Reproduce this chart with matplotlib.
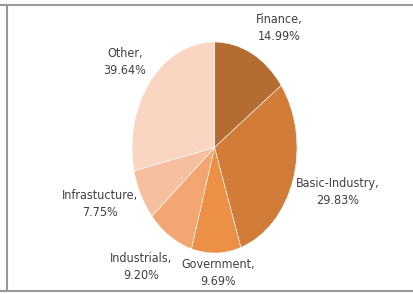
import matplotlib
matplotlib.use('Agg')
import matplotlib.pyplot as plt

# Sector split (wedge sizes as drawn, labels as printed on the chart)
sectors = ['Finance', 'Basic-Industry', 'Government', 'Industrials', 'Infrastucture', 'Other']
wedge_sizes = [14.99, 29.83, 9.69, 9.20, 7.75, 28.54]
label_pcts = ['14.99%', '29.83%', '9.69%', '9.20%', '7.75%', '39.64%']
colors = ['#b46c30', '#d17d39', '#ec9046', '#f3a671', '#f6bf9f', '#f9d5c2']

# label block centres in pixels (x from left, y from top)
label_pos = [(279, 28), (338, 192), (218, 273), (141, 267), (100, 204), (125, 62)]

W, H = 413, 294
plt.rcParams['font.family'] = ['DejaVu Sans']

fig = plt.figure(figsize=(W / 100, H / 100), dpi=100)
fig.patch.set_facecolor('white')

# frame lines
frame = fig.add_axes([0, 0, 1, 1])
frame.set_xlim(0, W)
frame.set_ylim(H, 0)
frame.axis('off')
frame.plot([0, W], [5, 5], color='#999999', lw=1.5)
frame.plot([0, W], [291, 291], color='#999999', lw=1.5)
frame.plot([6.5, 6.5], [5, 291], color='#999999', lw=1.5)

# pie drawn as an ellipse (taller than wide)
left, right, top, bottom = 132, 297, 42, 253
ax = fig.add_axes([left / W, (H - bottom) / H, (right - left) / W, (bottom - top) / H])
ax.pie(wedge_sizes, colors=colors, startangle=90, counterclock=False,
       wedgeprops=dict(edgecolor='white', linewidth=0.4))
ax.set_aspect('auto')
ax.set_xlim(-1, 1)
ax.set_ylim(-1, 1)
ax.axis('off')

for name, pct, (x, y) in zip(sectors, label_pcts, label_pos):
    frame.text(x, y, f'{name},\n{pct}', ha='center', va='center',
               fontsize=9, fontstretch='condensed', color='#404040', linespacing=1.45)

fig.savefig('out.png', dpi=100)
